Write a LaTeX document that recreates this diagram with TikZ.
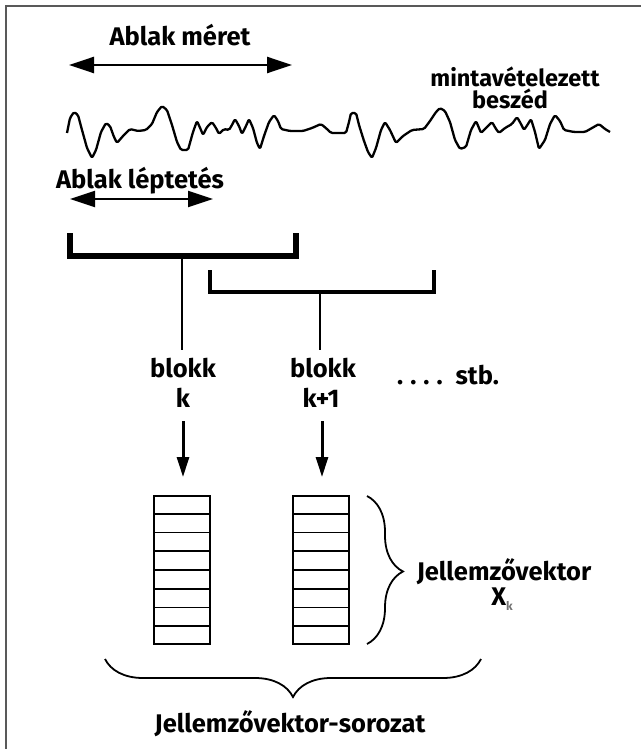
\documentclass[tikz,border=0pt]{standalone}
\usepackage{fontspec}
\setmainfont{Fira Sans}
\usetikzlibrary{arrows.meta,decorations.pathreplacing,calc}

\begin{document}
\begin{tikzpicture}[x=1pt,y=-1pt,
  lbl/.style={font=\bfseries\fontsize{25.5}{27}\selectfont, inner sep=0pt, align=center},
  smalllbl/.style={font=\bfseries\fontsize{23.5}{25}\selectfont, inner sep=0pt, align=center},
  dblarrow/.style={line width=2.4pt, {Triangle[length=25pt,width=16pt]}-{Triangle[length=25pt,width=16pt]}},
  bracketline/.style={line width=5.5pt, line join=miter, line cap=butt},
  downarrow/.style={line width=3pt, -{Triangle[length=20pt,width=12pt]}},
  stem/.style={line width=1.6pt},
  vecbox/.style={draw, line width=1.8pt, minimum width=56pt, minimum height=148pt, inner sep=0pt},
  bracestyle/.style={line width=1.8pt, decorate}
]
\useasboundingbox (0,0) rectangle (641,749);

% frame edges
\draw[line width=2pt, black!65] (6,749) -- (6,6) -- (641,6);

% window size
\node[lbl] (meret) at (180,35) {Ablak méret};
\coordinate (m1) at (69,65);
\coordinate (m2) at (292,65);
\draw[dblarrow] (m1) -- (m2);

% sampled speech
\node[smalllbl] (minta) at (515,77) {mintavételezett};
\node[smalllbl] (beszed) at (510,99) {beszéd};

\draw[line width=2.3pt, line join=round, rounded corners=1.5pt]
  (67,133) -- (70,118) -- (74,112) -- (78,115) -- (82,130) -- (87,148) -- (92,158)
  -- (96,150) -- (101,132) -- (106,123) -- (110,126) -- (114,137) -- (117,143)
  -- (123,136) -- (130,129) -- (138,131) -- (146,130) -- (152,124) -- (157,112)
  -- (162,106) -- (167,110) -- (172,125) -- (177,142) -- (181,150) -- (188,150)
  -- (193,132) -- (197,121) -- (201,130) -- (203,135) -- (207,127) -- (212,122)
  -- (216,128) -- (219,134) -- (224,129) -- (229,130) -- (232,125) -- (235,119)
  -- (239,126) -- (242,134) -- (246,126) -- (249,119) -- (253,128) -- (257,143)
  -- (260,149) -- (264,136) -- (269,122) -- (274,115) -- (278,121) -- (281,129)
  -- (290,131) -- (303,131) -- (312,128) -- (321,124) -- (327,129) -- (331,133)
  -- (338,133) -- (346,133) -- (349,122) -- (351,113) -- (356,113) -- (359,125)
  -- (364,141) -- (368,152) -- (372,158) -- (376,148) -- (381,130) -- (385,122)
  -- (390,130) -- (396,143) -- (403,136) -- (412,130) -- (424,129) -- (430,121)
  -- (436,112) -- (440,108) -- (445,111) -- (450,122) -- (455,140) -- (460,149)
  -- (466,147) -- (471,130) -- (476,121) -- (479,128) -- (481,133) -- (487,127)
  -- (492,122) -- (496,129) -- (499,133) -- (505,128) -- (512,124) -- (517,117)
  -- (521,124) -- (524,130) -- (528,124) -- (531,119) -- (535,132) -- (539,149)
  -- (545,140) -- (550,124) -- (555,115) -- (560,121) -- (564,130) -- (574,132)
  -- (585,132) -- (592,128) -- (599,124) -- (605,129) -- (610,132);

% window step
\node[lbl] (lept) at (140,181) {Ablak léptetés};
\coordinate (l1) at (70,199);
\coordinate (l2) at (213,199);
\draw[dblarrow, line width=2pt] (l1) -- (l2);

% window brackets
\draw[bracketline] (70,233) -- (70,256) -- (296,256) -- (296,233);
\coordinate (b1) at (182,256);
\draw[bracketline, line width=4.8pt] (210,270) -- (210,292) -- (434,292) -- (434,270);
\coordinate (b2) at (320,292);

% blocks
\node[lbl] (blokk1) at (183,368) {blokk};
\node[lbl] (k1) at (183,398) {k};
\node[lbl] (blokk2) at (323,368) {blokk};
\node[lbl] (k2) at (321,398) {k+1};
\node[lbl, anchor=west] (stb) at (397,375) {.\hspace{7pt}.\hspace{7pt}.\hspace{7pt}.\hspace{13pt}stb.};

\draw[stem] (b1) -- (b1 |- 0,350);
\draw[stem] (b2) -- (b2 |- 0,350);

% feature vectors
\node[vecbox] (v1) at (182,570) {};
\node[vecbox] (v2) at (321,570) {};
\foreach \v in {v1,v2}{
  \foreach \i in {1,...,7}{
    \draw[line width=1.8pt] ($(\v.north west)!\i/8!(\v.south west)$) -- ($(\v.north east)!\i/8!(\v.south east)$);
  }
}

\coordinate (a1s) at (183,421);
\coordinate (a1e) at (183,477);
\coordinate (a2s) at (322,421);
\coordinate (a2e) at (322,477);
\draw[downarrow] (a1s) -- (a1e);
\draw[downarrow] (a2s) -- (a2e);

% braces
\coordinate (r1) at (367,496);
\coordinate (r2) at (367,644);
\draw[bracestyle, decoration={brace, amplitude=36pt, aspect=0.51}] (r1) -- (r2);
\node[lbl] (jv) at (504,572) {Jellemzővektor};
\node[lbl] (xk) at (502,599) {X\raisebox{-5pt}{\textcolor{black!55}{\fontsize{12}{12}\selectfont k}}};

\coordinate (s1) at (105,659);
\coordinate (s2) at (481,659);
\draw[bracestyle, decoration={brace, mirror, amplitude=38pt, aspect=0.5}] (s1) -- (s2);
\node[lbl] (jvs) at (290,724) {Jellemzővektor-sorozat};
\end{tikzpicture}
\end{document}
